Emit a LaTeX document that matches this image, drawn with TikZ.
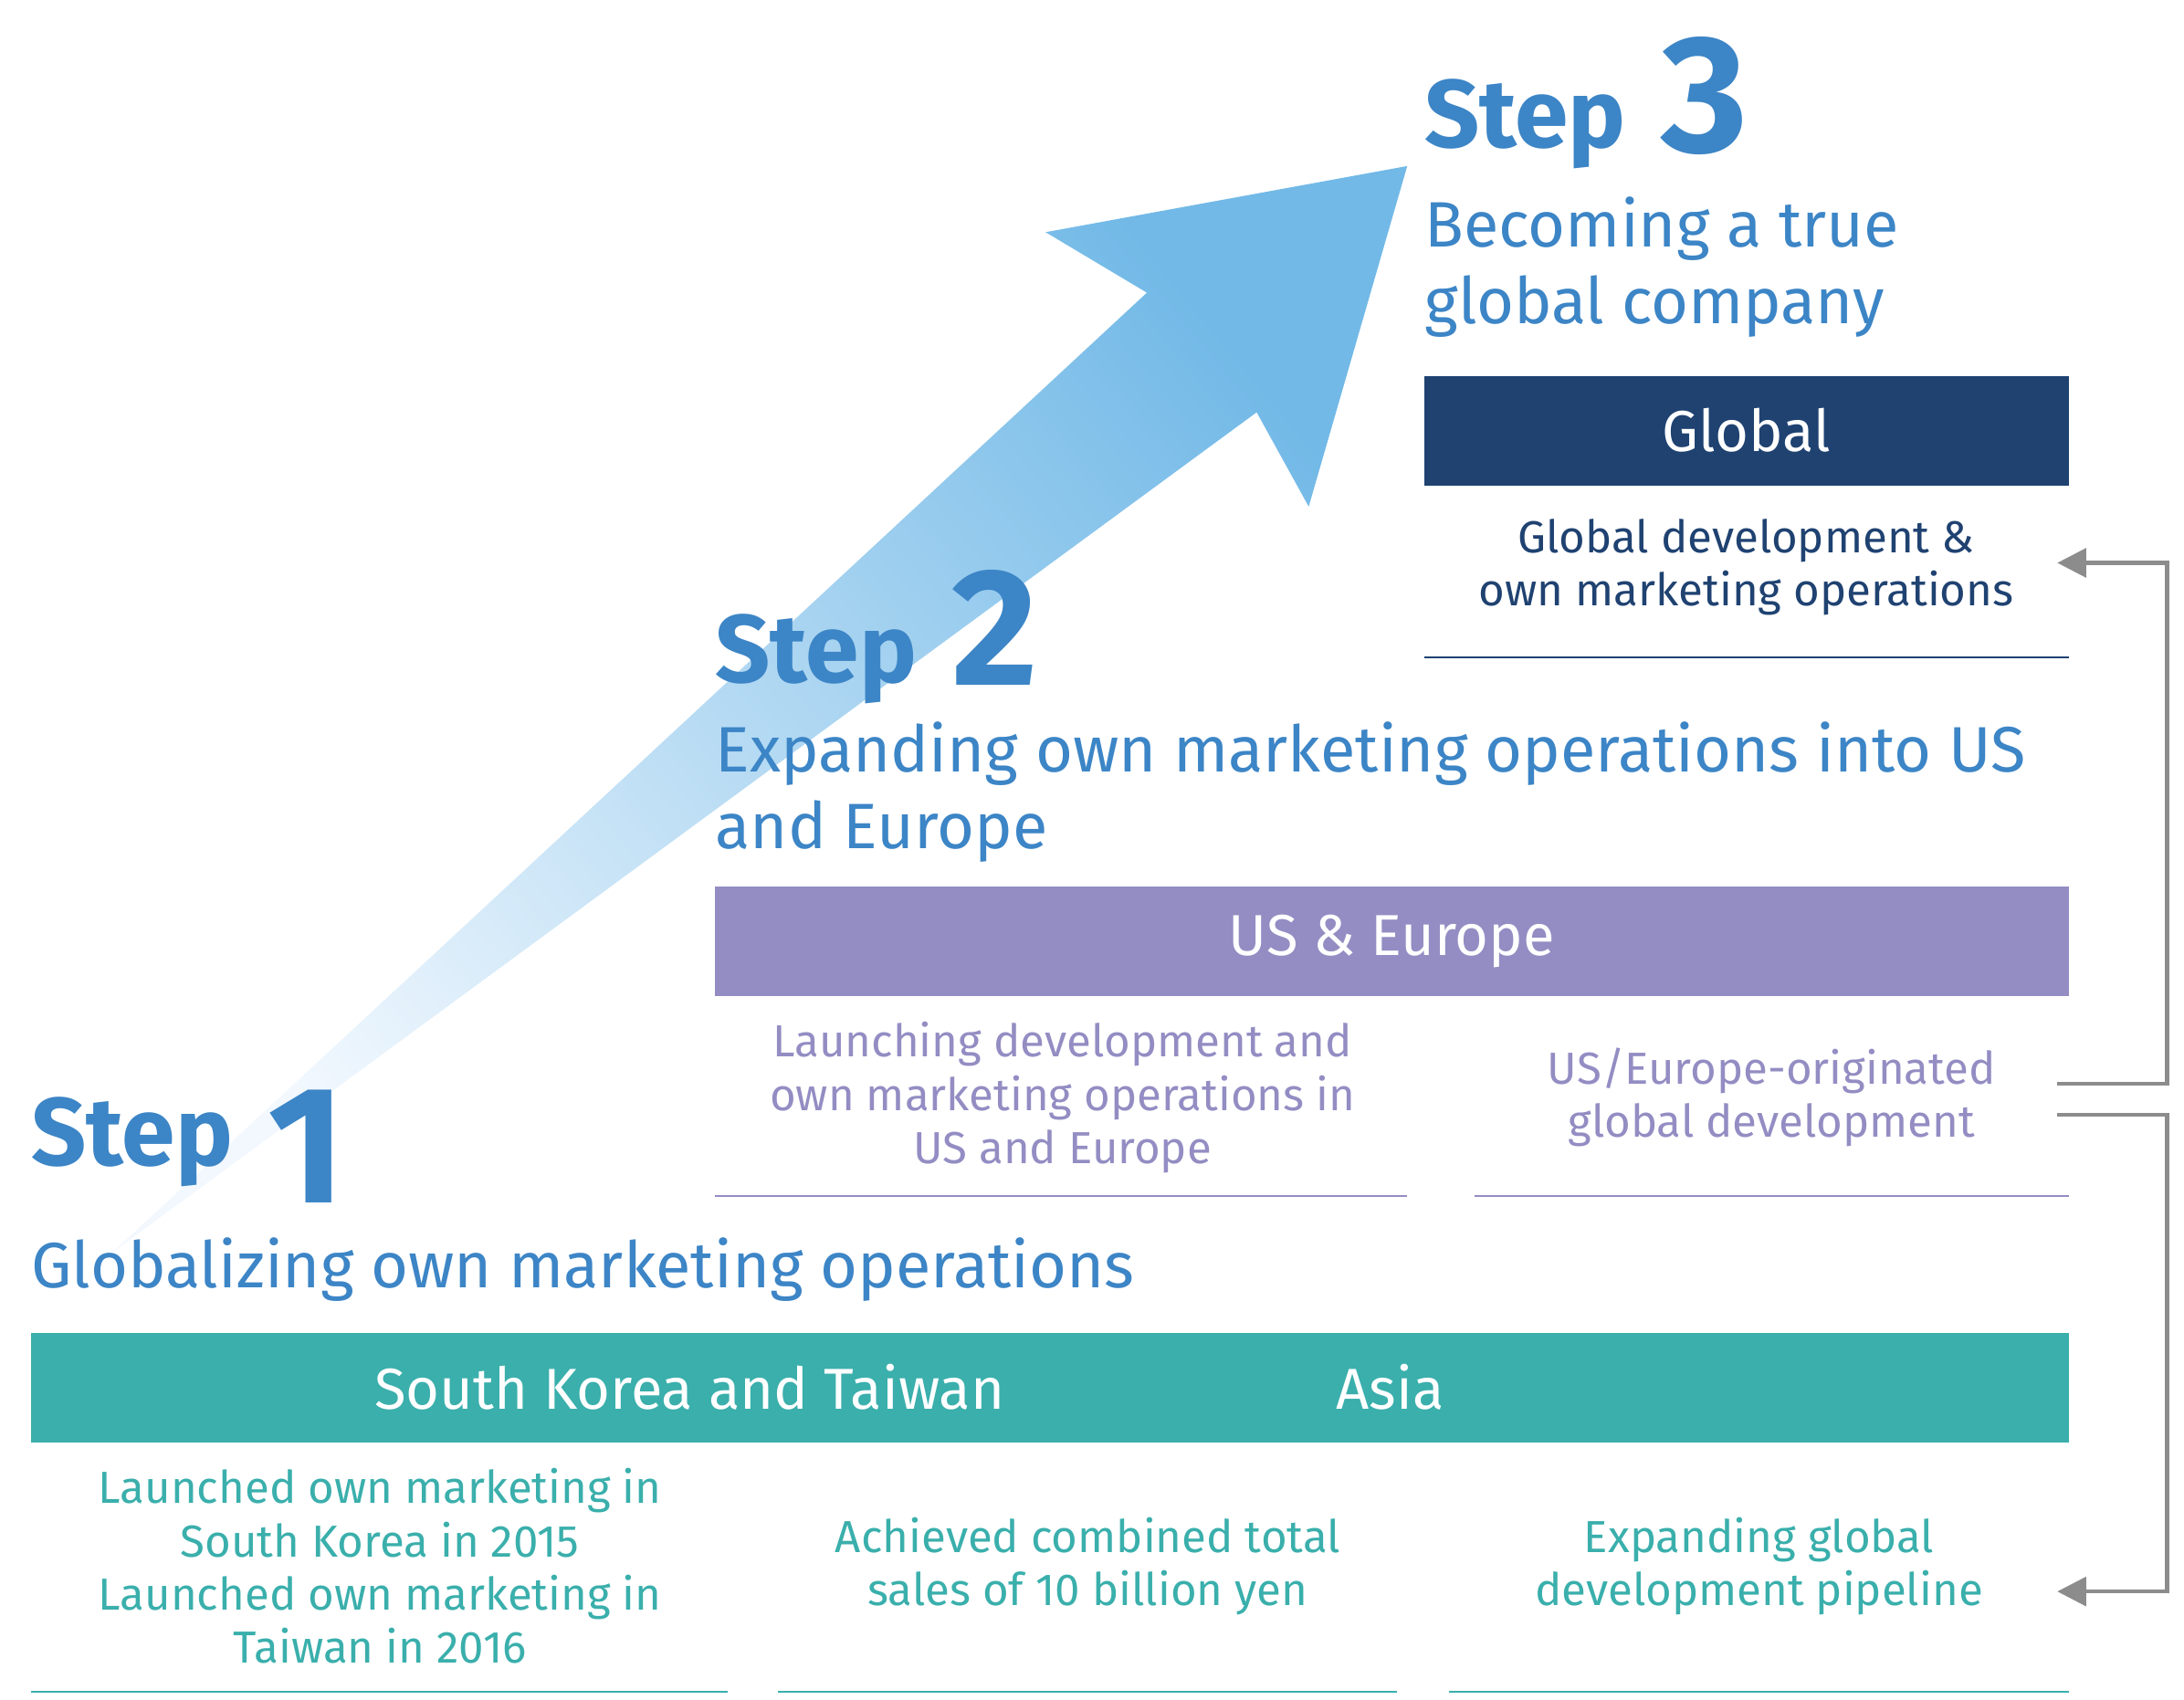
\documentclass[tikz,border=0pt]{standalone}
\usepackage{fontspec}
\setmainfont{Fira Sans}
\usetikzlibrary{arrows.meta}
\definecolor{stepblue}{HTML}{3C85C6}
\definecolor{teal1}{HTML}{3AAFAC}
\definecolor{purple1}{HTML}{938DC3}
\definecolor{navy1}{HTML}{1F4271}
\definecolor{arrowtop}{HTML}{72B9E7}
\definecolor{arrowlow}{HTML}{F2F8FE}
\definecolor{link}{HTML}{8C8C8C}
\tikzset{
  stepword/.style={anchor=base west,inner sep=0,text=stepblue,font=\fontsize{30}{30}\selectfont\bfseries},
  stepnum/.style={anchor=base west,inner sep=0,text=stepblue,font=\fontsize{52}{52}\selectfont\bfseries},
  subtitle/.style={anchor=base west,inner sep=0,text=stepblue,align=left,font=\fontsize{20}{23.8}\selectfont},
  band/.style={inner sep=0,text=white,font=\fontsize{18}{18}\selectfont},
  body/.style={inner sep=0,align=center,font=\fontsize{14}{16.6}\selectfont},
  rule/.style={line width=0.6pt},
  feed/.style={draw=link,line width=1.2pt,-{Triangle[length=9pt,width=9pt]}}
}
\begin{document}
\begin{tikzpicture}[x=0.01541cm,y=-0.01541cm]
\useasboundingbox (0,0) rectangle (1552,1208);
% the rising arrow
\shade[top color=arrowtop,bottom color=arrowlow,shading angle=-50]
  (80,890) -- (815,208) -- (743,165) -- (1000,118) -- (930,360) -- (893,293) -- cycle;

% step 3
\node[stepword] (s3word) at (1012,105) {Step};
\node[stepnum] (s3num) at (1180,108) {3};
\node[subtitle] (s3sub) at (1012,230) {Becoming a true\\global company};
\fill[navy1] (1012,267) rectangle (1470,345);
\node[band] (global) at (1241,306) {Global};
\node[body,text=navy1] (globaltext) at (1241,403) {Global development \&\\own marketing operations};
\draw[rule,navy1] (1012,467) -- (1470,467);

% step 2
\node[stepword] (s2word) at (508,485) {Step};
\node[stepnum] (s2num) at (676,487) {2};
\node[subtitle] (s2sub) at (508,603) {Expanding own marketing operations into US\\and Europe};
\fill[purple1] (508,630) rectangle (1470,708);
\node[band] (useu) at (989,669) {US \& Europe};
\node[body,text=purple1] (useuleft) at (755,780) {Launching development and\\own marketing operations in\\US and Europe};
\node[body,text=purple1] (useuright) at (1259,780) {US/Europe-originated\\global development};
\draw[rule,purple1] (508,850) -- (1000,850);
\draw[rule,purple1] (1048,850) -- (1470,850);

% step 1
\node[stepword] (s1word) at (22,828) {Step};
\node[stepnum] (s1num) at (190,855) {1};
\node[subtitle] (s1sub) at (22,915) {Globalizing own marketing operations};
\fill[teal1] (22,947) rectangle (1470,1025);
\node[band] (skt) at (490,986) {South Korea and Taiwan};
\node[band] (asia) at (988,986) {Asia};
\node[body,text=teal1] (asialeft) at (270,1113) {Launched own marketing in\\South Korea in 2015\\Launched own marketing in\\Taiwan in 2016};
\node[body,text=teal1] (asiamid) at (773,1113) {Achieved combined total\\sales of 10 billion yen};
\node[body,text=teal1] (asiaright) at (1250,1113) {Expanding global\\development pipeline};
\draw[rule,teal1] (22,1202) -- (517,1202);
\draw[rule,teal1] (553,1202) -- (993,1202);
\draw[rule,teal1] (1030,1202) -- (1470,1202);

% feedback links
\coordinate (upfrom) at (1462,770);
\coordinate (upto) at (1462,400);
\coordinate (downfrom) at (1462,792);
\coordinate (downto) at (1462,1131);
\draw[feed] (upfrom) -- (1540,770) -- (1540,400) -- (upto);
\draw[feed] (downfrom) -- (1540,792) -- (1540,1131) -- (downto);
\end{tikzpicture}
\end{document}
